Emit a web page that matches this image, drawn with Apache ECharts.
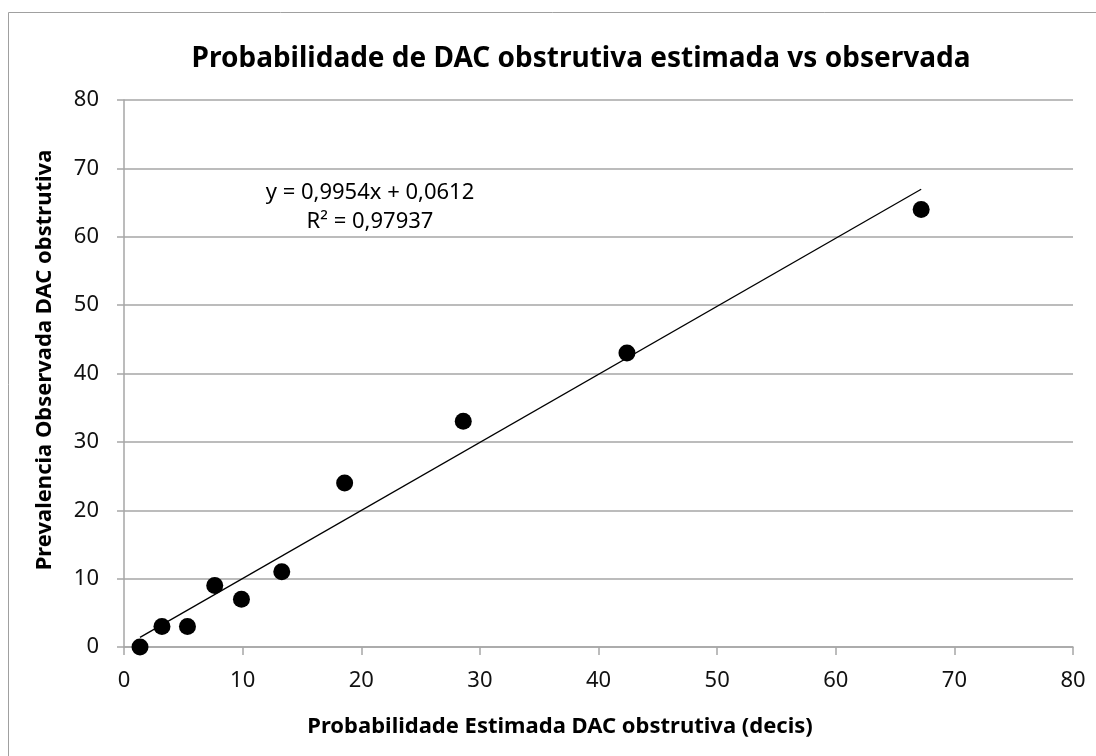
<!DOCTYPE html>
<html><head><meta charset="utf-8">
<script src="https://cdn.jsdelivr.net/npm/echarts@6/dist/echarts.min.js"></script>
<style>html,body{margin:0;padding:0;background:#fff}#c{width:1096px;height:756px}</style>
</head><body><div id="c"></div>
<script>
const estimada = [1.35, 3.2, 5.35, 7.65, 9.9, 13.3, 18.6, 28.6, 42.4, 67.2];
const observada = [0, 3, 3, 9, 7, 11, 24, 33, 43, 64];
const slope = 0.9954, intercept = 0.0612;
const trendX = [1.35, 67.2];
const xTicks = [0, 80, 10];
const yTicks = [0, 80, 10];
const titleText = 'Probabilidade de DAC obstrutiva estimada vs observada';
const xName = 'Probabilidade Estimada DAC obstrutiva (decis)';
const yName = 'Prevalencia Observada DAC obstrutiva';
const eqText = ['y = 0,9954x + 0,0612', 'R² = 0,97937'];

const F = 'Noto Sans';
const chart = echarts.init(document.getElementById('c'));
const scatter = estimada.map((x, i) => [x, observada[i]]);
const trend = trendX.map(x => [x, slope * x + intercept]);
const gray = '#a6a6a6';
chart.setOption({
  animation: false,
  title: { text: titleText, left: 576, top: 40, textAlign: 'center',
    textStyle: { fontFamily: F, fontSize: 28, fontWeight: 'bold', color: '#000' } },
  grid: { left: 124, right: 23, top: 100, bottom: 109 },
  xAxis: { type: 'value', min: xTicks[0], max: xTicks[1], interval: xTicks[2],
    axisLine: { show: true, lineStyle: { color: gray, width: 1.5 } },
    axisTick: { show: true, length: 8, lineStyle: { color: gray, width: 1.5 } },
    splitLine: { show: false },
    axisLabel: { fontFamily: F, fontSize: 22, color: '#111', margin: 23 } },
  yAxis: { type: 'value', min: yTicks[0], max: yTicks[1], interval: yTicks[2],
    axisLine: { show: true, lineStyle: { color: gray, width: 1.5 } },
    axisTick: { show: true, length: 7, lineStyle: { color: gray, width: 1.5 } },
    splitLine: { show: true, lineStyle: { color: gray, width: 1.5 } },
    axisLabel: { fontFamily: F, fontSize: 22, color: '#111', margin: 25 } },
  graphic: [
    { type: 'rect', shape: { x: 8.5, y: 12.5, width: 1100, height: 760 }, style: { fill: 'none', stroke: '#a0a0a0', lineWidth: 1 }, silent: true },
    { type: 'text', x: 560, y: 727, style: { text: xName, fontFamily: F, fontSize: 22, fontWeight: 'bold', fill: '#000', align: 'center', verticalAlign: 'middle' } },
    { type: 'text', x: 45, y: 360, rotation: Math.PI / 2, style: { text: yName, fontFamily: F, fontSize: 22, fontWeight: 'bold', fill: '#000', align: 'center', verticalAlign: 'middle' } },
    { type: 'text', x: 370, y: 193, style: { text: eqText[0], fontFamily: F, fontSize: 22, fill: '#000', align: 'center', verticalAlign: 'middle' } },
    { type: 'text', x: 370, y: 222, style: { text: eqText[1], fontFamily: F, fontSize: 22, fill: '#000', align: 'center', verticalAlign: 'middle' } }
  ],
  series: [
    { type: 'line', data: trend, showSymbol: false, symbol: 'none', lineStyle: { color: '#000', width: 1.3 }, z: 2 },
    { type: 'scatter', data: scatter, symbol: 'circle', symbolSize: 17, itemStyle: { color: '#000', opacity: 1 }, z: 3 }
  ]
});
</script></body></html>
